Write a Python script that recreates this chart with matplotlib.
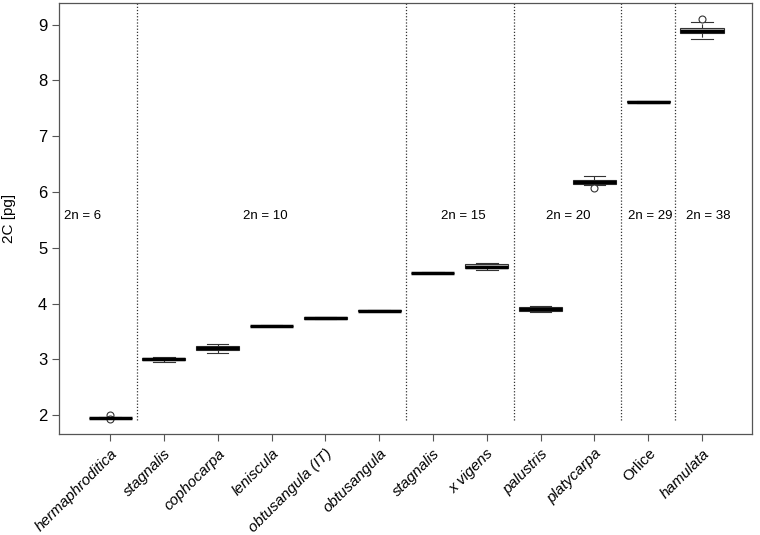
import matplotlib
matplotlib.use("Agg")
import matplotlib.pyplot as plt

plt.rcParams["font.family"] = ["Liberation Sans", "DejaVu Sans"]

taxa = ["hermaphroditica", "stagnalis", "cophocarpa", "leniscula", "obtusangula (IT)",
        "obtusangula", "stagnalis", "x vigens", "palustris", "platycarpa", "Orlice", "hamulata"]
italic = [True] * 10 + [False, True]

med = [1.95, 3.00, 3.20, 3.60, 3.74, 3.87, 4.55, 4.66, 3.90, 6.18, 7.62, 8.89]
q1 = [1.945, 2.98, 3.17, 3.595, 3.725, 3.865, 4.545, 4.63, 3.87, 6.15, 7.61, 8.85]
q3 = [1.955, 3.02, 3.23, 3.605, 3.755, 3.875, 4.555, 4.70, 3.93, 6.22, 7.63, 8.95]
whislo = [1.94, 2.95, 3.12, 3.59, 3.72, 3.86, 4.54, 4.61, 3.85, 6.12, 7.60, 8.75]
whishi = [1.96, 3.04, 3.27, 3.61, 3.76, 3.88, 4.56, 4.72, 3.96, 6.28, 7.64, 9.05]
fliers = [[2.00, 1.93], [], [], [], [], [], [], [], [], [6.07], [], [9.10]]

# ploidy groups: separator positions, label positions and labels
separators = [1.5, 6.5, 8.5, 10.5, 11.5]
ploidy_x = [0.48, 3.88, 7.56, 9.51, 11.04, 12.11]
ploidy = ["2n = 6", "2n = 10", "2n = 15", "2n = 20", "2n = 29", "2n = 38"]

fig = plt.figure(figsize=(7.6, 5.35), dpi=100)
ax = fig.add_axes([0.0776, 0.1888, 0.9119, 0.8056])

stats = []
for i in range(len(taxa)):
    stats.append(dict(med=med[i], q1=q1[i], q3=q3[i], whislo=whislo[i],
                      whishi=whishi[i], fliers=fliers[i]))
pos = list(range(1, len(taxa) + 1))
ax.bxp(stats, positions=pos, widths=0.8, patch_artist=True, showfliers=True,
       boxprops=dict(facecolor="#d3d3d3", edgecolor="#333333", lw=0.8),
       medianprops=dict(color="black", lw=2.5),
       whiskerprops=dict(color="#333333", lw=0.8, ls="--"),
       capprops=dict(color="#333333", lw=0.8),
       flierprops=dict(marker="o", mfc="white", mec="#333333", ms=5, mew=0.8))

for s in separators:
    ax.plot([s, s], [1.91, 9.5], ls=(0, (1, 1.5)), color="#333333", lw=0.9)
for x, t in zip(ploidy_x, ploidy):
    ax.text(x, 5.57, t, ha="center", va="center", fontsize=9.5)

ax.set_xlim(0.05, 12.93)
ax.set_ylim(1.66, 9.39)
ax.set_yticks(range(2, 10))
ax.set_xticks(pos)
ax.set_xticklabels(taxa, rotation=45, ha="right", rotation_mode="anchor", fontsize=11)
for lab, it in zip(ax.get_xticklabels(), italic):
    lab.set_style("italic" if it else "normal")
ax.tick_params(axis="y", labelsize=12, direction="out", length=5, color="#555555")
ax.tick_params(axis="x", direction="out", length=5, color="#555555", pad=4)
ax.set_ylabel("2C [pg]", fontsize=11, labelpad=16)
for sp in ax.spines.values():
    sp.set_color("#555555")
    sp.set_linewidth(0.9)

fig.savefig("out.png", dpi=100)
